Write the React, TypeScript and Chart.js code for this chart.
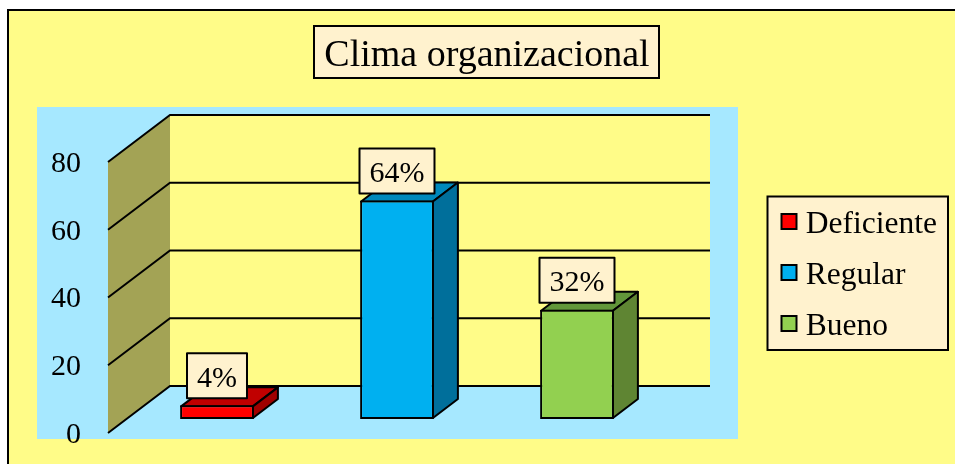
import React, { useEffect, useRef } from "react";
import { Chart, registerables } from "chart.js";

Chart.register(...registerables);

const chartTitle = "Clima organizacional";
const categories = ["Deficiente", "Regular", "Bueno"];
const percentValues = [4, 64, 32];
const frontColors = ["#FF0000", "#00B0F0", "#92D050"];
const topColors = ["#C00000", "#0089BC", "#62973A"];
const sideColors = ["#A00000", "#006F9B", "#5F8533"];
const yTicks = [0, 20, 40, 60, 80];

const SERIF = "'Liberation Serif', serif";
const PAPER = "#FFFC88";
const BACKDROP = "#A6E8FF";
const SIDE_WALL = "#A3A355";
const BOX_FILL = "#FFF2CE";
const INK = "#000000";

const WALL_DX = 62;
const WALL_DY = -47;
const BAR_PLANE_DX = 19;
const BAR_PLANE_DY = -14;
const BAR_DX = 25;
const BAR_DY = -19;

function box(ctx: CanvasRenderingContext2D, x0: number, y0: number, x1: number, y1: number) {
  ctx.fillStyle = BOX_FILL;
  ctx.strokeStyle = INK;
  ctx.lineWidth = 2;
  ctx.fillRect(x0, y0, x1 - x0, y1 - y0);
  ctx.strokeRect(x0, y0, x1 - x0, y1 - y0);
}

function poly(ctx: CanvasRenderingContext2D, pts: number[][], fill: string) {
  ctx.beginPath();
  pts.forEach((p, i) => (i ? ctx.lineTo(p[0], p[1]) : ctx.moveTo(p[0], p[1])));
  ctx.closePath();
  ctx.fillStyle = fill;
  ctx.fill();
  ctx.strokeStyle = INK;
  ctx.lineWidth = 2;
  ctx.lineJoin = "round";
  ctx.stroke();
}

function swatch(color: string) {
  const c = document.createElement("canvas");
  c.width = 21;
  c.height = 29;
  const g = c.getContext("2d") as CanvasRenderingContext2D;
  g.fillStyle = color;
  g.fillRect(2.5, 4, 15, 15);
  g.strokeStyle = INK;
  g.lineWidth = 2;
  g.strokeRect(2.5, 4, 15, 15);
  return c;
}

const scenePlugin = {
  id: "scene",
  afterLayout(chart: any) {
    const t = chart.titleBlock;
    const th = t.bottom - t.top;
    t.left = 314;
    t.right = 660;
    t.top = 56.5 - th / 2;
    t.bottom = t.top + th;
    const l = chart.legend;
    const w = l.right - l.left;
    const h = l.bottom - l.top;
    l.left = 769.5;
    l.right = l.left + w;
    l.top = 189.25;
    l.bottom = l.top + h;
  },
  beforeDraw(chart: any) {
    const { ctx, chartArea, scales } = chart;
    const y = scales.y;
    ctx.save();
    ctx.fillStyle = "#FFFFFF";
    ctx.fillRect(0, 0, chart.width, chart.height);
    ctx.fillStyle = PAPER;
    ctx.fillRect(7, 9, chart.width - 7, chart.height - 9);
    ctx.fillStyle = INK;
    ctx.fillRect(7, 9, chart.width - 7, 2);
    ctx.fillRect(7, 9, 2, chart.height - 9);

    ctx.fillStyle = BACKDROP;
    ctx.fillRect(37, 107, 701, 332);

    box(ctx, 314, 26, 659, 78);
    box(ctx, 767.5, 196.5, 948, 350);

    const left = chartArea.left;
    const right = chartArea.right;
    const y0 = y.getPixelForValue(0);
    const yMax = y.getPixelForValue(80);
    ctx.fillStyle = PAPER;
    ctx.fillRect(left + WALL_DX, yMax + WALL_DY, right - left, y0 - yMax);
    ctx.fillStyle = SIDE_WALL;
    ctx.beginPath();
    ctx.moveTo(left, y0);
    ctx.lineTo(left + WALL_DX, y0 + WALL_DY);
    ctx.lineTo(left + WALL_DX, yMax + WALL_DY);
    ctx.lineTo(left, yMax);
    ctx.closePath();
    ctx.fill();

    ctx.strokeStyle = INK;
    ctx.lineWidth = 2;
    yTicks.forEach((v) => {
      const py = y.getPixelForValue(v);
      ctx.beginPath();
      ctx.moveTo(left, py);
      ctx.lineTo(left + WALL_DX, py + WALL_DY);
      ctx.lineTo(right + WALL_DX, py + WALL_DY);
      ctx.stroke();
    });
    ctx.restore();
  },
  beforeDatasetsDraw(chart: any) {
    const { ctx } = chart;
    ctx.save();
    ctx.translate(BAR_PLANE_DX, BAR_PLANE_DY);
    const meta = chart.getDatasetMeta(0);
    meta.data.forEach((el: any, i: number) => {
      const xl = el.x - el.width / 2 + 1;
      const xr = el.x + el.width / 2 - 1;
      const yt = el.y + 1;
      const yb = el.base - 1;
      poly(ctx, [[xl, yt], [xr, yt], [xr + BAR_DX, yt + BAR_DY], [xl + BAR_DX, yt + BAR_DY]], topColors[i]);
      poly(ctx, [[xr, yt], [xr + BAR_DX, yt + BAR_DY], [xr + BAR_DX, yb + BAR_DY], [xr, yb]], sideColors[i]);
    });
  },
  afterDatasetsDraw(chart: any) {
    const { ctx } = chart;
    const meta = chart.getDatasetMeta(0);
    meta.data.forEach((el: any, i: number) => {
      const label = percentValues[i] + "%";
      ctx.font = `30px ${SERIF}`;
      const tw = ctx.measureText(label).width;
      const x0 = el.x - tw / 2 - 10;
      const x1 = el.x + tw / 2 + 10;
      const y1 = el.y - 7;
      const y0 = y1 - 45;
      box(ctx, x0, y0, x1, y1);
      ctx.fillStyle = INK;
      ctx.textAlign = "center";
      ctx.textBaseline = "middle";
      ctx.fillText(label, el.x, (y0 + y1) / 2 + 3);
    });
    ctx.restore();
  },
};

export default function App() {
  const ref = useRef<HTMLCanvasElement>(null);
  useEffect(() => {
    const chart = new Chart(ref.current as HTMLCanvasElement, {
      type: "bar",
      data: {
        labels: categories,
        datasets: [
          {
            label: chartTitle,
            data: percentValues,
            yAxisID: "yBars",
            backgroundColor: frontColors,
            borderColor: INK,
            borderWidth: 2,
            borderSkipped: false,
            barPercentage: 0.41,
            categoryPercentage: 1,
            clip: false,
          } as any,
        ],
      },
      options: {
        responsive: false,
        animation: false,
        layout: { padding: { left: 0, right: 307, top: 116.4, bottom: 31 } },
        events: [],
        scales: {
          x: { type: "category", display: false },
          yBars: { type: "linear", display: false, min: 0, max: 79.4, position: "left" },
          y: {
            type: "linear",
            min: 0,
            max: 80,
            position: "left",
            afterFit(s: any) {
              s.width = 108;
              s.paddingTop = 0;
              s.paddingBottom = 0;
            },
            afterBuildTicks(s: any) {
              s.ticks = yTicks.map((v) => ({ value: v }));
            },
            grid: { display: false, drawTicks: false },
            border: { display: false },
            ticks: {
              padding: 27,
              labelOffset: 2,
              color: INK,
              font: { family: SERIF, size: 30 },
            },
          },
        },
        plugins: {
          tooltip: { enabled: false },
          title: {
            display: true,
            text: chartTitle,
            color: INK,
            padding: 0,
            font: { family: SERIF, size: 38, weight: "normal", lineHeight: 1.2 },
          },
          legend: {
            display: true,
            position: "chartArea" as any,
            align: "start",
            labels: {
              color: INK,
              usePointStyle: true,
              boxWidth: 1,
              boxHeight: 17,
              padding: 19.5,
              font: { family: SERIF, size: 31.5, lineHeight: 1.2 },
              generateLabels: () =>
                categories.map((c, i) => ({
                  text: c,
                  fillStyle: frontColors[i],
                  strokeStyle: INK,
                  lineWidth: 2,
                  pointStyle: swatch(frontColors[i]),
                  fontColor: INK,
                  index: i,
                })),
            },
          },
        },
      },
      plugins: [scenePlugin as any],
    });
    return () => chart.destroy();
  }, []);
  return (
    <div style={{ position: "absolute", left: 0, top: 0, width: 955, height: 464 }}>
      <canvas ref={ref} width={955} height={464} style={{ display: "block" }} />
    </div>
  );
}
